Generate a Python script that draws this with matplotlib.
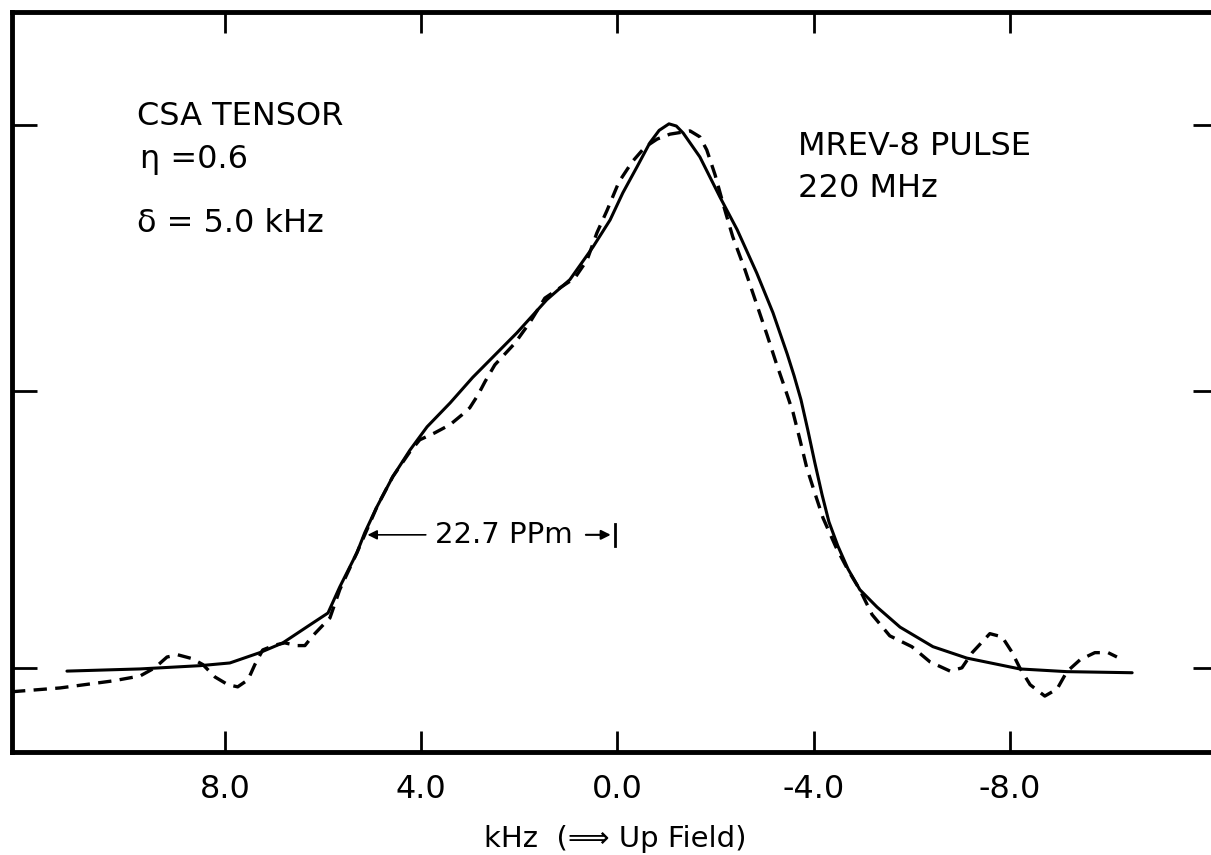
import matplotlib
matplotlib.use("Agg")
import matplotlib.pyplot as plt

# simulated CSA powder pattern (solid line)
sim_khz = [11.22, 9.73, 8.51, 7.90, 7.29, 6.82, 6.27, 5.90, 5.66, 5.31, 5.15, 4.90,
           4.58, 4.23, 3.88, 3.41, 2.95, 2.05, 1.44, 0.97, 0.50, 0.15, -0.11, -0.40,
           -0.66, -0.85, -1.05, -1.20, -1.34, -1.68, -2.09, -2.44, -2.84, -3.17, -3.46,
           -3.60, -3.74, -3.88, -4.02, -4.17, -4.31, -4.49, -4.70, -4.94, -5.29, -5.76,
           -6.43, -7.12, -8.20, -9.16, -10.49]
sim_int = [-0.006, -0.002, 0.004, 0.009, 0.028, 0.046, 0.079, 0.101, 0.149, 0.212, 0.249, 0.297,
           0.352, 0.401, 0.444, 0.488, 0.535, 0.617, 0.678, 0.715, 0.775, 0.825, 0.875, 0.923,
           0.967, 0.990, 1.002, 0.998, 0.985, 0.941, 0.867, 0.807, 0.727, 0.654, 0.578,
           0.538, 0.494, 0.438, 0.379, 0.319, 0.269, 0.225, 0.182, 0.144, 0.112, 0.075,
           0.039, 0.018, -0.002, -0.007, -0.009]

# experimental MREV-8 spectrum (dashed line)
exp_khz = [12.34, 11.36, 10.28, 9.73, 9.43, 9.18, 8.96, 8.67, 8.45, 8.20, 7.94, 7.74,
           7.53, 7.39, 7.23, 6.98, 6.78, 6.53, 6.37, 6.21, 6.02, 5.86, 5.66, 5.31,
           4.90, 4.58, 4.23, 4.03, 3.72, 3.41, 3.17, 3.01, 2.84, 2.70, 2.50, 2.09,
           1.78, 1.48, 1.17, 0.87, 0.62, 0.42, 0.21, -0.03, -0.30, -0.56, -0.81, -1.07,
           -1.48, -1.68, -1.82, -1.99, -2.19, -2.35, -2.60, -2.84, -3.05, -3.23, -3.41,
           -3.58, -3.72, -3.86, -4.03, -4.19, -4.45, -4.70, -4.94, -5.19, -5.55, -6.00,
           -6.37, -6.78, -7.02, -7.23, -7.59, -7.84, -8.04, -8.20, -8.41, -8.71, -8.96,
           -9.16, -9.43, -9.73, -10.00, -10.18]
exp_int = [-0.044, -0.037, -0.024, -0.015, 0.000, 0.020, 0.024, 0.017, 0.006, -0.017, -0.031, -0.035,
           -0.022, 0.006, 0.033, 0.042, 0.046, 0.041, 0.041, 0.059, 0.077, 0.092, 0.144, 0.212,
           0.297, 0.352, 0.398, 0.420, 0.433, 0.448, 0.466, 0.479, 0.503, 0.527, 0.558, 0.598,
           0.637, 0.681, 0.700, 0.718, 0.751, 0.801, 0.843, 0.895, 0.932, 0.959, 0.974, 0.983,
           0.989, 0.978, 0.954, 0.908, 0.843, 0.794, 0.733, 0.669, 0.613, 0.563, 0.516,
           0.470, 0.420, 0.368, 0.320, 0.276, 0.223, 0.180, 0.144, 0.098, 0.059, 0.039,
           0.011, -0.006, 0.000, 0.028, 0.063, 0.057, 0.029, 0.000, -0.031, -0.052, -0.039,
           -0.007, 0.015, 0.028, 0.028, 0.020]

xticks = [8, 4, 0, -4, -8]
xticklabels = ["8.0", "4.0", "0.0", "-4.0", "-8.0"]
yticks = [0, 0.51, 1.0]

fig = plt.figure(figsize=(12.11, 8.55), dpi=100)
ax = fig.add_axes([12/1211, 103/855, 1206/1211, 740/855])

ax.plot(sim_khz, sim_int, color="black", lw=2.2, solid_capstyle="round", solid_joinstyle="round")
ax.plot(exp_khz, exp_int, color="black", lw=2.4, dashes=(4, 2.5))

ax.set_xlim(12.34, -12.24)
ax.set_ylim(-0.155, 1.208)

ax.set_xticks(xticks)
ax.set_xticklabels(xticklabels, fontsize=23)
ax.set_yticks(yticks)
ax.set_yticklabels([])
ax.tick_params(axis="x", direction="in", length=15, width=2, top=True, pad=16)
ax.tick_params(axis="y", direction="in", length=18, width=2, right=True)
for s in ax.spines.values():
    s.set_linewidth(3.5)

ax.set_xlabel("kHz  (\u27f9 Up Field)", fontsize=21, labelpad=14)

ax.text(9.80, 1.000, "CSA TENSOR", fontsize=23, va="baseline")
ax.text(9.73, 0.921, "\u03b7 =0.6", fontsize=23, va="baseline")
ax.text(9.80, 0.803, "\u03b4 = 5.0 kHz", fontsize=23, va="baseline")
ax.text(-3.68, 0.945, "MREV-8 PULSE", fontsize=23, va="baseline")
ax.text(-3.68, 0.867, "220 MHz", fontsize=23, va="baseline")

# linewidth marker
ax.annotate("", xy=(5.15, 0.245), xytext=(3.85, 0.245),
            arrowprops=dict(arrowstyle="-|>", color="black", lw=1.2, mutation_scale=14))
ax.text(3.72, 0.245, "22.7 PPm", fontsize=21, va="center")
ax.annotate("", xy=(0.08, 0.245), xytext=(0.70, 0.245),
            arrowprops=dict(arrowstyle="-|>", color="black", lw=1.5, mutation_scale=14))
ax.plot([0.05, 0.05], [0.225, 0.265], color="black", lw=2)

fig.savefig("out.png", dpi=100)
